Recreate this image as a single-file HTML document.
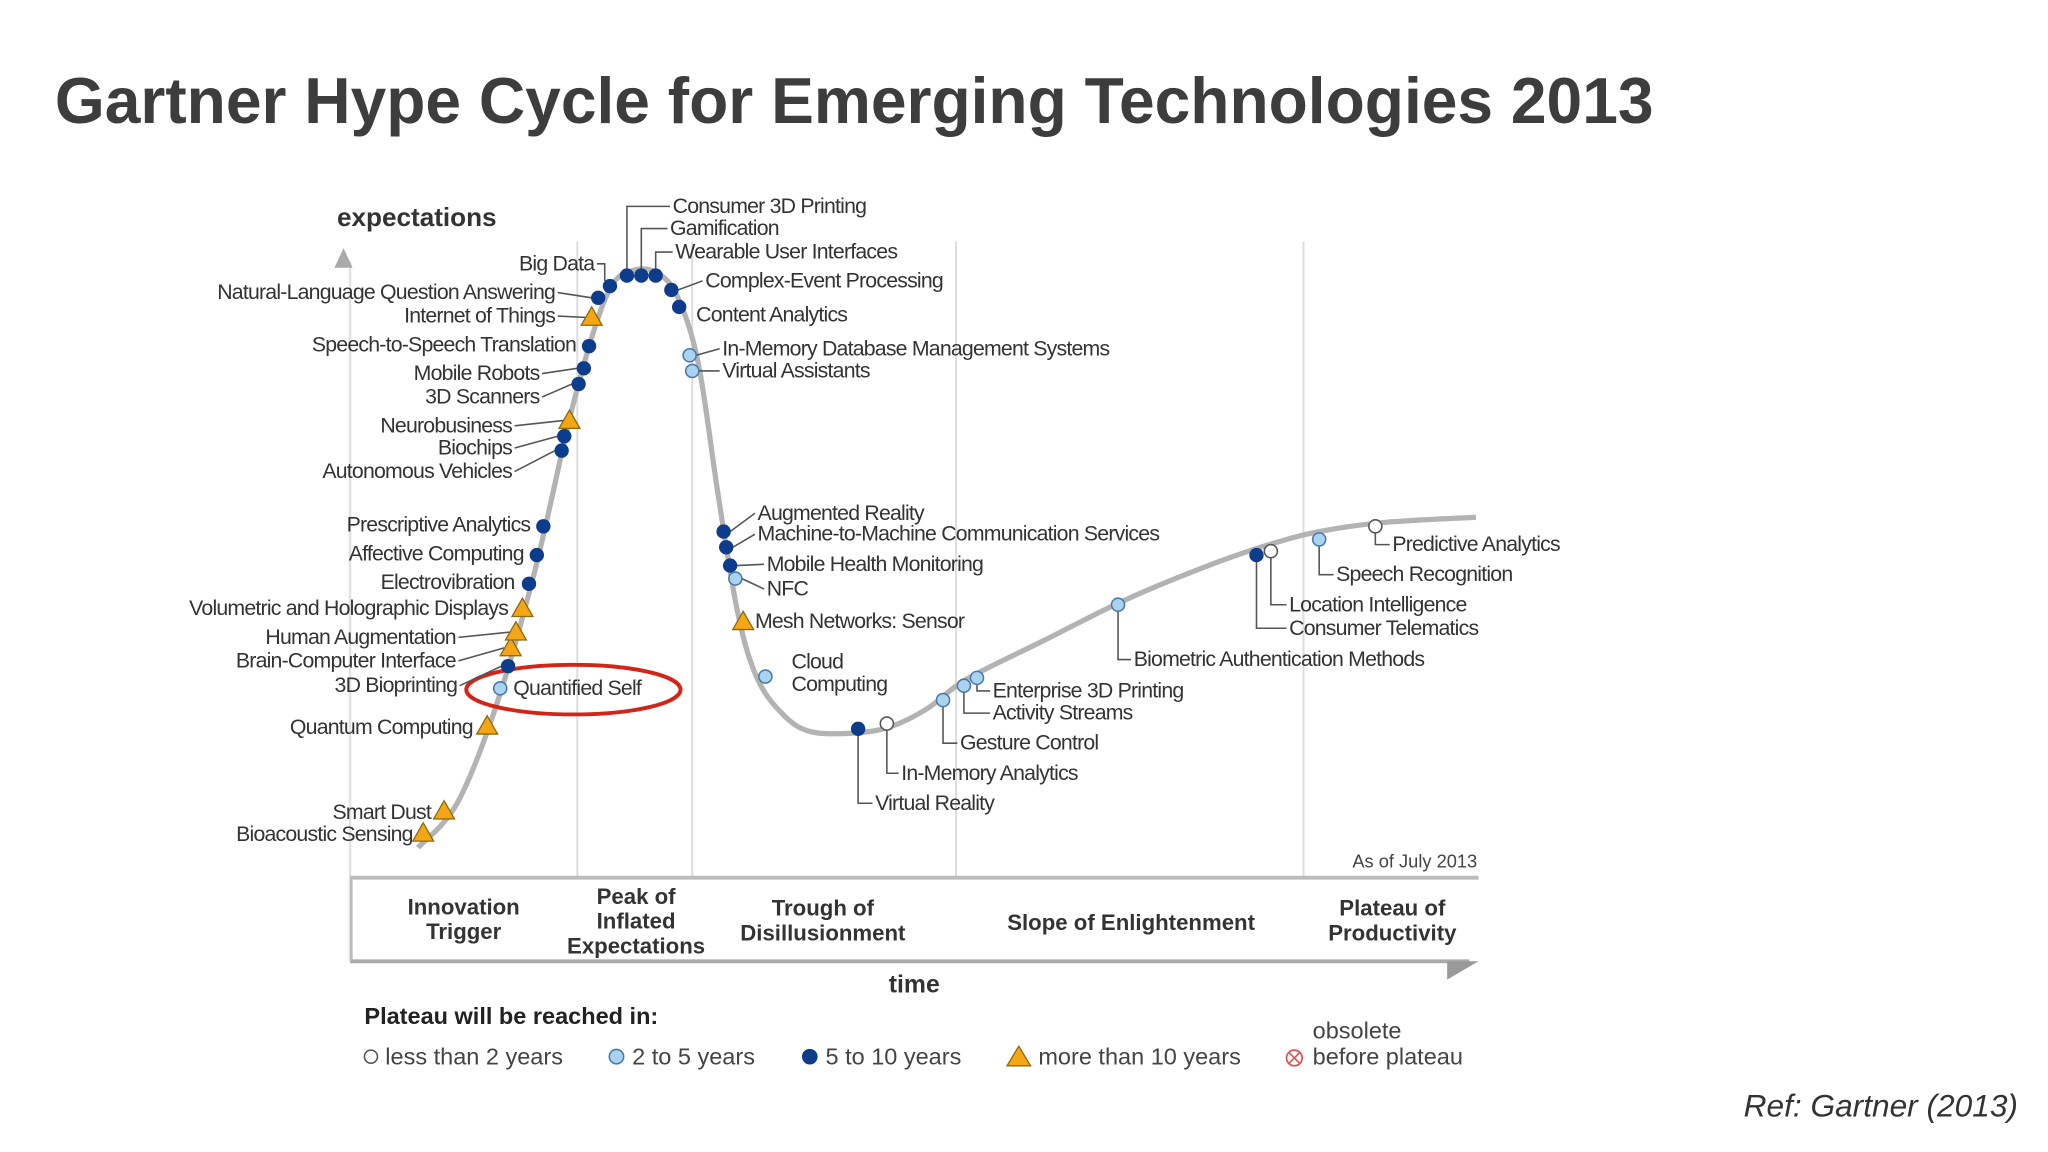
<!DOCTYPE html>
<html><head><meta charset="utf-8">
<style>
html,body{margin:0;padding:0;background:#fff;}
svg{display:block;}
text{font-family:"Liberation Sans",sans-serif;}
</style></head>
<body>
<svg id="chart" width="2048" height="1152" viewBox="0 0 1568 882" xmlns="http://www.w3.org/2000/svg">
<text x="42" y="94" font-size="50" font-weight="bold" fill="#3d3d3d" textLength="1224" lengthAdjust="spacingAndGlyphs">Gartner Hype Cycle for Emerging Technologies 2013</text>
<text x="1545" y="855" font-size="24" font-style="italic" fill="#333" text-anchor="end" textLength="210" lengthAdjust="spacingAndGlyphs">Ref: Gartner (2013)</text>
<g id="frame">
<line x1="268" y1="200" x2="268" y2="736" stroke="#e2e2e2" stroke-width="2"/>
<polygon points="263,190 256,205 270,205" fill="#aaa"/>
<line x1="442" y1="185" x2="442" y2="672" stroke="#dcdcdc" stroke-width="1.5"/>
<line x1="530" y1="185" x2="530" y2="672" stroke="#dcdcdc" stroke-width="1.5"/>
<line x1="732" y1="185" x2="732" y2="672" stroke="#dcdcdc" stroke-width="1.5"/>
<line x1="998" y1="185" x2="998" y2="672" stroke="#dcdcdc" stroke-width="1.5"/>
<line x1="268" y1="672" x2="1132" y2="672" stroke="#bbb" stroke-width="3"/>
<line x1="268" y1="736" x2="1125" y2="736" stroke="#aaa" stroke-width="3"/>
<line x1="269" y1="672" x2="269" y2="736" stroke="#bbb" stroke-width="2"/>
<polygon points="1108,736 1132,736 1108,750" fill="#999"/>
<text x="258" y="173" font-size="20" font-weight="bold" fill="#333">expectations</text>
<text x="700" y="760" font-size="19" font-weight="bold" fill="#333" text-anchor="middle">time</text>
<text x="1131" y="664" font-size="14" fill="#444" text-anchor="end">As of July 2013</text>
</g>
<g id="phases" font-size="17" font-weight="bold" fill="#333" text-anchor="middle"></g>
<path id="curve" fill="none" stroke="#b3b3b3" stroke-width="4"/>
<ellipse cx="439" cy="528" rx="82" ry="19" fill="none" stroke="#d42418" stroke-width="3"/>
<g id="conn" stroke="#555" stroke-width="1.2" fill="none"></g>
<g id="marks"></g>
<g id="labels" font-size="16.3" fill="#333" letter-spacing="-0.6"></g>
<g id="legend">
<text x="279" y="784" font-size="18" font-weight="bold" fill="#222">Plateau will be reached in:</text>
<g><circle cx="284" cy="809" r="5" fill="#fff" stroke="#555" stroke-width="1.2"/><text x="295" y="815" font-size="18" fill="#444">less than 2 years</text></g>
<g><circle cx="472" cy="809" r="5.5" fill="#a9d3f0" stroke="#4a7aa8" stroke-width="1.2"/><text x="484" y="815" font-size="18" fill="#444">2 to 5 years</text></g>
<g><circle cx="620" cy="809" r="6" fill="#0d3c8c"/><text x="632" y="815" font-size="18" fill="#444">5 to 10 years</text></g>
<g><polygon points="780,801 771,816 789,816" fill="#f5a614" stroke="#8a6a10" stroke-width="1"/><text x="795" y="815" font-size="18" fill="#444">more than 10 years</text></g>
<g><circle cx="991" cy="810" r="6" fill="#fff" stroke="#e05050" stroke-width="1.3"/><path d="M987,806 L995,814 M995,806 L987,814" stroke="#e05050" stroke-width="1.2"/><text x="1005" y="795" font-size="18" fill="#444">obsolete</text><text x="1005" y="815" font-size="18" fill="#444">before plateau</text></g>
</g>
</svg>
<script>
// ---- data ----
const techNames = ["Bioacoustic Sensing","Smart Dust","Quantum Computing","Quantified Self","3D Bioprinting","Brain-Computer Interface","Human Augmentation","Volumetric and Holographic Displays","Electrovibration","Affective Computing","Prescriptive Analytics","Autonomous Vehicles","Biochips","Neurobusiness","3D Scanners","Mobile Robots","Speech-to-Speech Translation","Internet of Things","Natural-Language Question Answering","Big Data","Consumer 3D Printing","Gamification","Wearable User Interfaces","Complex-Event Processing","Content Analytics","In-Memory Database Management Systems","Virtual Assistants","Augmented Reality","Machine-to-Machine Communication Services","Mobile Health Monitoring","NFC","Mesh Networks: Sensor","Cloud Computing","Virtual Reality","In-Memory Analytics","Gesture Control","Activity Streams","Enterprise 3D Printing","Biometric Authentication Methods","Consumer Telematics","Location Intelligence","Speech Recognition","Predictive Analytics"];
const timeVals = [5.4,7.0,10.3,11.3,11.9,12.1,12.5,13.0,13.5,14.1,14.6,16.0,16.2,16.6,17.3,17.7,18.1,18.3,18.8,19.7,21.0,22.1,23.2,24.4,25.0,25.8,26.0,28.4,28.6,28.9,29.3,29.9,31.6,38.7,40.9,45.2,46.8,47.8,58.6,69.2,70.3,74.0,78.3];
const expectVals = [6.4,9.8,22.8,28.6,32,34.8,37.2,40.8,44.6,49,53.4,65,67.2,69.6,75.2,77.6,81,85.4,88.4,90.2,91.8,91.8,91.8,89.6,87,79.6,77.2,52.6,50.2,47.4,45.4,38.8,30.4,22.4,23.2,26.8,29,30.2,41.4,49,49.6,51.4,53.4];
const plateauClass = ["t","t","t","l","d","t","t","t","d","d","d","d","d","t","d","d","d","t","d","d","d","d","d","d","d","l","l","d","d","d","l","t","l","d","w","l","l","l","l","d","w","l","w"];
const phaseNames = [["Innovation","Trigger"],["Peak of","Inflated","Expectations"],["Trough of","Disillusionment"],["Slope of Enlightenment"],["Plateau of","Productivity"]];
const curveTime = [5.0,8,11,14,17,19.5,21.5,23.5,25,26.5,28,29.5,31,33,35,38,41,44,47,53,59,65,70,74,79,86];
const curveExpect = [4.2,11,26,47,73,89,92.6,92,88,78,58,40,30,24.5,22,21.7,22.6,25.5,30,36,42,47,50.5,52.6,54,54.8];
// ---- scales ----
const xS = t => 270 + t*10;
const yS = e => 670 - e*5;
const lay = [[-8,6,"e","n"],[-10,6,"e","n"],[-11,6,"e","n"],[10,5,"s","n"],[-39,20,"e","s"],[-42,15,"e","s"],[-46,9,"e","s"],[-11,5,"e","n"],[-11,4,"e","n"],[-10,4,"e","n"],[-10,4,"e","n"],[-38,21,"e","s"],[-40,14,"e","s"],[-44,9,"e","s"],[-30,15,"e","s"],[-34,9,"e","s"],[-10,4,"e","n"],[-28,4,"e","s"],[-33,1,"e","s"],[-12,-12,"e","B"],[35,-48,"s","B"],[22,-31,"s","B"],[15,-13,"s","B"],[26,-2,"s","s"],[13,11,"s","n"],[25,0,"s","s"],[23,5,"s","s"],[26,-9,"s","s"],[24,-5,"s","s"],[28,4,"s","s"],[24,13,"s","s"],[9,5,"s","n"],[20,-6,"s","n"],[13,62,"s","L"],[11,43,"s","L"],[13,38,"s","L"],[22,26,"s","L"],[12,15,"s","L"],[12,47,"s","L"],[25,61,"s","L"],[14,46,"s","L"],[13,32,"s","L"],[13,19,"s","L"]];
const NS="http://www.w3.org/2000/svg";
function mk(tag, attrs, parent){const el=document.createElementNS(NS,tag);for(const k in attrs)el.setAttribute(k,attrs[k]);parent.appendChild(el);return el;}
(function(){
  const p=curveTime.map((t,i)=>[xS(t),yS(curveExpect[i])]);
  let d="M"+p[0][0]+","+p[0][1];
  for(let i=0;i<p.length-1;i++){
    const p0=p[i-1]||p[i],p1=p[i],p2=p[i+1],p3=p[i+2]||p2;
    d+=" C"+(p1[0]+(p2[0]-p0[0])/6)+","+(p1[1]+(p2[1]-p0[1])/6)+" "+(p2[0]-(p3[0]-p1[0])/6)+","+(p2[1]-(p3[1]-p1[1])/6)+" "+p2[0]+","+p2[1];
  }
  document.getElementById("curve").setAttribute("d",d);
})();
const phaseX=[355,487,630,866,1066];
const phaseTop=[700,692,701,712,701];
const pg=document.getElementById("phases");
phaseNames.forEach((lines,i)=>{
  const t=mk("text",{x:phaseX[i],y:phaseTop[i]},pg);
  
  
  lines.forEach((ln,j)=>{const s=mk("tspan",{x:phaseX[i],dy:j?19:0},t);s.textContent=ln;});
});
const cg=document.getElementById("conn"),mg=document.getElementById("marks"),lg=document.getElementById("labels");
techNames.forEach((name,i)=>{
  const x=xS(timeVals[i]),y=yS(expectVals[i]);
  const [dx,dy,side,ln]=lay[i];
  const lx=x+dx,ly=y+dy;
  if(ln==="s"){
    const cl=mk("path",{d:side==="e"?`M${lx+2},${ly-5} L${x-5},${y}`:`M${x+5},${y} L${lx-2},${ly-5}`},cg);
    
    
  } else if(ln==="L"){
    const cl=mk("path",{d:`M${x},${y+5} L${x},${ly-5} L${lx-2},${ly-5}`},cg);
    
    
  } else if(ln==="B"){
    const by=ly-5;
    const cl=mk("path",{d:side==="e"?`M${lx+2},${by} L${lx+8},${by} L${lx+8},${y-4}`:`M${x},${y-5} L${x},${by} L${lx-2},${by}`},cg);
    
    
  }
  const c=plateauClass[i];let m;
  if(c==="t") m=mk("polygon",{points:`${x},${y-8} ${x-8},${y+6} ${x+8},${y+6}`,fill:"#f5a614",stroke:"#8a6a10","stroke-width":1},mg);
  else if(c==="d") m=mk("circle",{cx:x,cy:y,r:5.5,fill:"#0d3c8c"},mg);
  else if(c==="l") m=mk("circle",{cx:x,cy:y,r:5,fill:"#a9d3f0",stroke:"#4a7aa8","stroke-width":1.2},mg);
  else m=mk("circle",{cx:x,cy:y,r:5,fill:"#fff",stroke:"#555","stroke-width":1.2},mg);
  
  
  const t=mk("text",{x:lx,y:ly,"text-anchor":side==="e"?"end":"start"},lg);
  
  
  if(name==="Cloud Computing"){
    const a=mk("tspan",{x:lx,dy:0},t);a.textContent="Cloud";
    const b=mk("tspan",{x:lx,dy:17},t);b.textContent="Computing";
  } else t.textContent=name;
});
</script>
</body></html>
